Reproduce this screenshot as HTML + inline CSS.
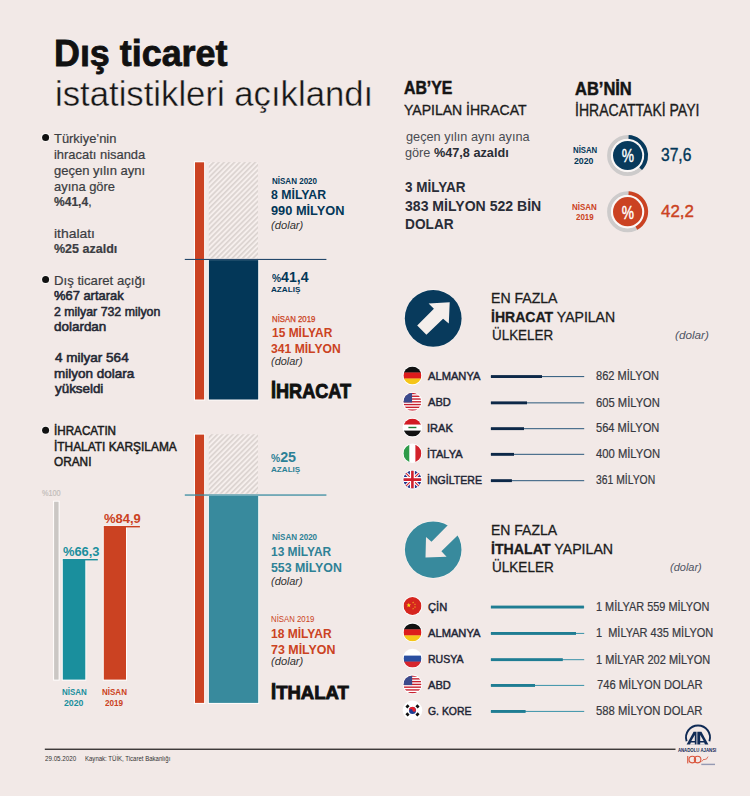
<!DOCTYPE html>
<html><head><meta charset="utf-8"><style>
html,body{margin:0;padding:0;}
body{width:750px;height:796px;background:#f2e9e7;position:relative;overflow:hidden;font-family:"Liberation Sans",sans-serif;}
.t{position:absolute;white-space:nowrap;transform-origin:0 0;}
.t b{font-weight:700;}
svg{position:absolute;left:0;top:0;}
</style></head><body>
<svg width="750" height="796" viewBox="0 0 750 796"><defs><pattern id="hatch" patternUnits="userSpaceOnUse" width="3.68" height="20" patternTransform="rotate(45)"><rect width="3.68" height="20" fill="#f6efed"/><rect x="0" width="1.7" height="20" fill="#dbd3d0"/></pattern></defs><rect x="194" y="161.3" width="11.099999999999994" height="239.2" fill="#fffdfc"/><rect x="195" y="162.3" width="9.099999999999994" height="237.2" fill="#cb4222"/><rect x="208.8" y="162.1" width="49.2" height="96.3" fill="url(#hatch)"/><rect x="207.9" y="259.1" width="51.29999999999998" height="141.39999999999998" fill="#fffdfc"/><rect x="208.9" y="260.1" width="49.29999999999998" height="139.39999999999998" fill="#033758"/><rect x="184.8" y="258.9" width="141.6" height="1.1" fill="#23476a"/><rect x="194" y="433.6" width="11.099999999999994" height="270.29999999999995" fill="#fffdfc"/><rect x="195" y="434.6" width="9.099999999999994" height="268.29999999999995" fill="#cb4222"/><rect x="208.8" y="434.2" width="49.2" height="59.4" fill="url(#hatch)"/><rect x="207.9" y="494.9" width="51.29999999999998" height="209.0" fill="#fffdfc"/><rect x="208.9" y="495.9" width="49.29999999999998" height="207.0" fill="#388a9d"/><rect x="184.8" y="494.4" width="141.6" height="1.3" fill="#3c8da1"/><rect x="53.1" y="500.7" width="6.5" height="179.90000000000003" fill="#fffdfc"/><rect x="54.1" y="501.7" width="4.5" height="177.90000000000003" fill="#cbc7c4"/><rect x="61.8" y="558.7" width="24.5" height="121.89999999999998" fill="#fffdfc"/><rect x="62.8" y="559.7" width="22.5" height="119.89999999999998" fill="#1a8f9d"/><rect x="62.8" y="559.0" width="35" height="1.4" fill="#1a8f9d"/><rect x="102.8" y="525.7" width="24.200000000000003" height="154.89999999999998" fill="#fffdfc"/><rect x="103.8" y="526.7" width="22.200000000000003" height="152.89999999999998" fill="#cb4222"/><rect x="103.8" y="526.0" width="36.1" height="1.4" fill="#cb4222"/><circle cx="45.6" cy="137.4" r="4.4" fill="#fdfbfa"/><circle cx="45.6" cy="137.4" r="3.5" fill="#111"/><circle cx="45.6" cy="279.6" r="4.4" fill="#fdfbfa"/><circle cx="45.6" cy="279.6" r="3.5" fill="#111"/><circle cx="45.6" cy="430.2" r="4.4" fill="#fdfbfa"/><circle cx="45.6" cy="430.2" r="3.5" fill="#111"/><rect x="44.8" y="748.6" width="630.7" height="1.3" fill="#2b2727"/><circle cx="627.6" cy="155.5" r="18.6" fill="none" stroke="#cdcbcb" stroke-width="3.8"/><circle cx="627.6" cy="155.5" r="16.6" fill="#fbf8f7"/><circle cx="627.6" cy="155.5" r="14.6" fill="#083a5c"/><path d="M628.57 136.93 A18.6 18.6 0 0 1 640.67 168.73" fill="none" stroke="#083a5c" stroke-width="3.8"/><text transform="translate(627.9,162.4) scale(0.74,1)" text-anchor="middle" font-family="Liberation Sans" font-size="18.6" fill="#fff" stroke="#fff" stroke-width="0.45">%</text><circle cx="627.6" cy="211.7" r="18.6" fill="none" stroke="#cdcbcb" stroke-width="3.8"/><circle cx="627.6" cy="211.7" r="16.6" fill="#fbf8f7"/><circle cx="627.6" cy="211.7" r="14.6" fill="#cb4222"/><path d="M628.57 193.13 A18.6 18.6 0 0 1 636.36 228.11" fill="none" stroke="#cb4222" stroke-width="3.8"/><text transform="translate(627.9,218.6) scale(0.74,1)" text-anchor="middle" font-family="Liberation Sans" font-size="18.6" fill="#fff" stroke="#fff" stroke-width="0.45">%</text><circle cx="433.2" cy="318.4" r="28.9" fill="#fbf6f3"/><circle cx="433.2" cy="318.4" r="28.4" fill="#083a5c"/><polygon points="449.7,302.3 428.6,303.6 433.9,308.7 417.2,325.6 426.4,334.8 443.1,318.7 448.8,323.4" fill="#f4eeeb"/><circle cx="433.2" cy="549.7" r="28.8" fill="#fbf6f3"/><circle cx="433.2" cy="549.7" r="28.3" fill="#388a9d"/><polygon points="426,536.9 431.5,541.8 449.5,523.5 459.6,533.6 441.4,551.3 446.6,556.7 425.5,557.6" fill="#f2e9e7"/><rect x="490.9" y="376.00" width="93.30" height="1.1" fill="#3d6585"/><rect x="490.9" y="375.10" width="51.10" height="2.9" fill="#0d2848"/><rect x="490.9" y="402.30" width="93.30" height="1.1" fill="#3d6585"/><rect x="490.9" y="401.40" width="36.10" height="2.9" fill="#0d2848"/><rect x="490.9" y="428.10" width="93.30" height="1.1" fill="#3d6585"/><rect x="490.9" y="427.20" width="33.10" height="2.9" fill="#0d2848"/><rect x="490.9" y="453.80" width="93.30" height="1.1" fill="#3d6585"/><rect x="490.9" y="452.90" width="23.10" height="2.9" fill="#0d2848"/><rect x="490.9" y="480.10" width="93.30" height="1.1" fill="#3d6585"/><rect x="490.9" y="479.20" width="21.00" height="2.9" fill="#0d2848"/><rect x="490.9" y="606.50" width="93.30" height="1.1" fill="#4a9aae"/><rect x="490.9" y="605.60" width="93.00" height="2.9" fill="#1f7d93"/><rect x="490.9" y="632.90" width="93.30" height="1.1" fill="#4a9aae"/><rect x="490.9" y="632.00" width="85.10" height="2.9" fill="#1f7d93"/><rect x="490.9" y="659.10" width="93.30" height="1.1" fill="#4a9aae"/><rect x="490.9" y="658.20" width="71.90" height="2.9" fill="#1f7d93"/><rect x="490.9" y="684.90" width="93.30" height="1.1" fill="#4a9aae"/><rect x="490.9" y="684.00" width="44.10" height="2.9" fill="#1f7d93"/><rect x="490.9" y="710.90" width="93.30" height="1.1" fill="#4a9aae"/><rect x="490.9" y="710.00" width="34.70" height="2.9" fill="#1f7d93"/><clipPath id="c412_3755"><circle cx="412.4" cy="375.5" r="9.0"/></clipPath><circle cx="412.4" cy="375.5" r="9.8" fill="#fff"/><g clip-path="url(#c412_3755)"><rect x="403.4" y="366.5" width="18.0" height="6.3" fill="#111"/><rect x="403.4" y="372.5" width="18.0" height="6.3" fill="#dd1c1c"/><rect x="403.4" y="378.5" width="18.0" height="6.0" fill="#f5c518"/></g><clipPath id="c412_4018"><circle cx="412.4" cy="401.8" r="9.0"/></clipPath><circle cx="412.4" cy="401.8" r="9.8" fill="#fff"/><g clip-path="url(#c412_4018)"><rect x="403.4" y="392.8" width="18.0" height="18.0" fill="#fff"/><rect x="403.4" y="392.8" width="18.0" height="1.3846153846153846" fill="#c8202f"/><rect x="403.4" y="395.5692307692308" width="18.0" height="1.3846153846153846" fill="#c8202f"/><rect x="403.4" y="398.33846153846156" width="18.0" height="1.3846153846153846" fill="#c8202f"/><rect x="403.4" y="401.10769230769233" width="18.0" height="1.3846153846153846" fill="#c8202f"/><rect x="403.4" y="403.8769230769231" width="18.0" height="1.3846153846153846" fill="#c8202f"/><rect x="403.4" y="406.6461538461539" width="18.0" height="1.3846153846153846" fill="#c8202f"/><rect x="403.4" y="409.4153846153846" width="18.0" height="1.3846153846153846" fill="#c8202f"/><rect x="403.4" y="392.8" width="8.64" height="9.692307692307692" fill="#3b4a8c"/></g><clipPath id="c412_4276"><circle cx="412.4" cy="427.6" r="9.0"/></clipPath><circle cx="412.4" cy="427.6" r="9.8" fill="#fff"/><g clip-path="url(#c412_4276)"><rect x="403.4" y="418.6" width="18.0" height="6.3" fill="#d21b24"/><rect x="403.4" y="424.6" width="18.0" height="6.3" fill="#fff"/><rect x="403.4" y="430.6" width="18.0" height="6.0" fill="#111"/><rect x="408.4" y="426.8" width="8" height="1.4" fill="#1f7a36"/></g><clipPath id="c412_4533"><circle cx="412.4" cy="453.3" r="9.0"/></clipPath><circle cx="412.4" cy="453.3" r="9.8" fill="#fff"/><g clip-path="url(#c412_4533)"><rect x="403.4" y="444.3" width="6.3" height="18.0" fill="#2e9a48"/><rect x="409.4" y="444.3" width="6.3" height="18.0" fill="#fff"/><rect x="415.4" y="444.3" width="6.0" height="18.0" fill="#d2232c"/></g><clipPath id="c412_4796"><circle cx="412.4" cy="479.6" r="9.0"/></clipPath><circle cx="412.4" cy="479.6" r="9.8" fill="#fff"/><g clip-path="url(#c412_4796)"><rect x="403.4" y="470.6" width="18.0" height="18.0" fill="#23338a"/><path d="M403.4 470.6 L421.4 488.6 M421.4 470.6 L403.4 488.6" stroke="#fff" stroke-width="3.2"/><path d="M403.4 470.6 L421.4 488.6 M421.4 470.6 L403.4 488.6" stroke="#d0202e" stroke-width="1.1"/><path d="M412.4 470.6 V488.6 M403.4 479.6 H421.4" stroke="#fff" stroke-width="5"/><path d="M412.4 470.6 V488.6 M403.4 479.6 H421.4" stroke="#d0202e" stroke-width="2.6"/></g><clipPath id="c412_6060"><circle cx="412.5" cy="606.0" r="9.0"/></clipPath><circle cx="412.5" cy="606.0" r="9.8" fill="#fff"/><g clip-path="url(#c412_6060)"><rect x="403.5" y="597.0" width="18.0" height="18.0" fill="#d6251f"/><polygon points="408.80,602.70 409.39,604.39 411.18,604.43 409.75,605.51 410.27,607.22 408.80,606.20 407.33,607.22 407.85,605.51 406.42,604.43 408.21,604.39" fill="#f9e11a"/><polygon points="413.10,601.55 413.32,602.19 414.00,602.21 413.46,602.62 413.66,603.27 413.10,602.88 412.54,603.27 412.74,602.62 412.20,602.21 412.88,602.19" fill="#f9e11a"/><polygon points="415.00,603.25 415.22,603.89 415.90,603.91 415.36,604.32 415.56,604.97 415.00,604.58 414.44,604.97 414.64,604.32 414.10,603.91 414.78,603.89" fill="#f9e11a"/><polygon points="415.00,606.05 415.22,606.69 415.90,606.71 415.36,607.12 415.56,607.77 415.00,607.38 414.44,607.77 414.64,607.12 414.10,606.71 414.78,606.69" fill="#f9e11a"/><polygon points="413.10,607.75 413.32,608.39 414.00,608.41 413.46,608.82 413.66,609.47 413.10,609.08 412.54,609.47 412.74,608.82 412.20,608.41 412.88,608.39" fill="#f9e11a"/></g><clipPath id="c412_6324"><circle cx="412.5" cy="632.4" r="9.0"/></clipPath><circle cx="412.5" cy="632.4" r="9.8" fill="#fff"/><g clip-path="url(#c412_6324)"><rect x="403.5" y="623.4" width="18.0" height="6.3" fill="#111"/><rect x="403.5" y="629.4" width="18.0" height="6.3" fill="#dd1c1c"/><rect x="403.5" y="635.4" width="18.0" height="6.0" fill="#f5c518"/></g><clipPath id="c412_6586"><circle cx="412.5" cy="658.6" r="9.0"/></clipPath><circle cx="412.5" cy="658.6" r="9.8" fill="#fff"/><g clip-path="url(#c412_6586)"><rect x="403.5" y="649.6" width="18.0" height="6.3" fill="#fff"/><rect x="403.5" y="655.6" width="18.0" height="6.3" fill="#2a4ea0"/><rect x="403.5" y="661.6" width="18.0" height="6.0" fill="#d6252d"/></g><clipPath id="c412_6844"><circle cx="412.5" cy="684.4" r="9.0"/></clipPath><circle cx="412.5" cy="684.4" r="9.8" fill="#fff"/><g clip-path="url(#c412_6844)"><rect x="403.5" y="675.4" width="18.0" height="18.0" fill="#fff"/><rect x="403.5" y="675.4" width="18.0" height="1.3846153846153846" fill="#c8202f"/><rect x="403.5" y="678.1692307692307" width="18.0" height="1.3846153846153846" fill="#c8202f"/><rect x="403.5" y="680.9384615384615" width="18.0" height="1.3846153846153846" fill="#c8202f"/><rect x="403.5" y="683.7076923076922" width="18.0" height="1.3846153846153846" fill="#c8202f"/><rect x="403.5" y="686.4769230769231" width="18.0" height="1.3846153846153846" fill="#c8202f"/><rect x="403.5" y="689.2461538461538" width="18.0" height="1.3846153846153846" fill="#c8202f"/><rect x="403.5" y="692.0153846153846" width="18.0" height="1.3846153846153846" fill="#c8202f"/><rect x="403.5" y="675.4" width="8.64" height="9.692307692307692" fill="#3b4a8c"/></g><clipPath id="c412_7104"><circle cx="412.5" cy="710.4" r="9.0"/></clipPath><circle cx="412.5" cy="710.4" r="9.8" fill="#fff"/><g clip-path="url(#c412_7104)"><rect x="403.5" y="701.4" width="18.0" height="18.0" fill="#fff"/><circle cx="412.5" cy="710.4" r="3.5" fill="#1f3f96"/><path d="M409.0 710.4 A3.5 3.5 0 0 1 416.0 710.4 A1.75 1.75 0 0 1 412.5 710.4 A1.75 1.75 0 0 0 409.0 710.4Z" fill="#e3202c" transform="rotate(-15 412.5 710.4)"/><rect x="405.9" y="705.1" width="3.2" height="2.6" fill="#111" transform="rotate(-45 407.5 706.4)"/><rect x="415.9" y="705.1" width="3.2" height="2.6" fill="#111" transform="rotate(45 417.5 706.4)"/><rect x="405.9" y="713.1" width="3.2" height="2.6" fill="#111" transform="rotate(45 407.5 714.4)"/><rect x="415.9" y="713.1" width="3.2" height="2.6" fill="#111" transform="rotate(-45 417.5 714.4)"/></g><path d="M686.6 741.2 A12 12 0 1 1 709.4 741.2" fill="none" stroke="#0f2a55" stroke-width="1.9"/><polygon points="686.6,744.6 693.6,731.8 696.5,731.8 696.5,744.6" fill="#0f2a55"/><polygon points="708.4,744.6 701.4,731.8 697.3,731.8 697.3,744.6" fill="#0f2a55"/><polygon points="691.3,741.0 694.8,735.0 694.8,741.0" fill="#f2e9e7"/><polygon points="689.9,744.8 690.9,742.6 694.8,742.6 694.8,744.8" fill="#f2e9e7"/><polygon points="703.7,741.0 700.2,735.0 700.2,741.0" fill="#f2e9e7"/><polygon points="705.1,744.8 704.1,742.6 700.2,742.6 700.2,744.8" fill="#f2e9e7"/><text x="677.9" y="752" font-family="Liberation Sans" font-weight="700" font-size="6" fill="#0f2a55" textLength="38.4" lengthAdjust="spacingAndGlyphs">ANADOLU AJANSI</text><rect x="687.2" y="756" width="1.1" height="7.4" fill="#d9533a"/><circle cx="692.3" cy="759.6" r="3.3" fill="none" stroke="#d9533a" stroke-width="1.1"/><circle cx="697.6" cy="759.6" r="3.3" fill="none" stroke="#d9533a" stroke-width="1.1"/><path d="M701.5 761.5 q1.5 -1 2.5 -2.5 q0.5 2 1.5 0 q0.5 1.5 2.5 -2.4" stroke="#d9533a" stroke-width="0.8" fill="none"/><rect x="701.3" y="763.7" width="13.7" height="1.4" fill="#7d86a6" opacity="0.8"/></svg>
<div class="t" id="t0" style="left:53.66px;top:36.26px;font-size:36.19px;line-height:36.19px;font-weight:700;color:#111;font-style:normal;transform:scaleX(0.9917);-webkit-text-stroke:0.8px #111;">Dış ticaret</div><div class="t" id="t1" style="left:54.66px;top:77.20px;font-size:34.60px;line-height:34.60px;font-weight:400;color:#161616;font-style:normal;transform:scaleX(1.0035);-webkit-text-stroke:0.4px #f2e9e7;">istatistikleri açıklandı</div><div class="t" id="t2" style="left:54.14px;top:133.35px;font-size:12.94px;line-height:12.94px;font-weight:400;color:#3b3d42;font-style:normal;transform:scaleX(0.9975);-webkit-text-stroke:0.2px #3b3d42;">Türkiye’nin</div><div class="t" id="t3" style="left:54.21px;top:149.35px;font-size:12.94px;line-height:12.94px;font-weight:400;color:#3b3d42;font-style:normal;transform:scaleX(0.9988);-webkit-text-stroke:0.2px #3b3d42;">ihracatı nisanda</div><div class="t" id="t4" style="left:54.32px;top:165.05px;font-size:12.94px;line-height:12.94px;font-weight:400;color:#3b3d42;font-style:normal;transform:scaleX(1.0050);-webkit-text-stroke:0.2px #3b3d42;">geçen yılın aynı</div><div class="t" id="t5" style="left:54.04px;top:180.65px;font-size:12.94px;line-height:12.94px;font-weight:400;color:#3b3d42;font-style:normal;transform:scaleX(0.9977);-webkit-text-stroke:0.2px #3b3d42;">ayına göre</div><div class="t" id="t6" style="left:53.91px;top:196.45px;font-size:12.94px;line-height:12.94px;font-weight:400;color:#3b3d42;font-style:normal;transform:scaleX(0.9309);-webkit-text-stroke:0.2px #3b3d42;"><b>%41,4</b>,</div><div class="t" id="t7" style="left:54.00px;top:227.85px;font-size:12.94px;line-height:12.94px;font-weight:400;color:#3b3d42;font-style:normal;transform:scaleX(1.0751);-webkit-text-stroke:0.2px #3b3d42;">ithalatı</div><div class="t" id="t8" style="left:53.89px;top:243.45px;font-size:12.94px;line-height:12.94px;font-weight:400;color:#3b3d42;font-style:normal;transform:scaleX(0.9666);-webkit-text-stroke:0.2px #3b3d42;"><b>%25 azaldı</b></div><div class="t" id="t9" style="left:53.58px;top:274.95px;font-size:12.94px;line-height:12.94px;font-weight:400;color:#3b3d42;font-style:normal;transform:scaleX(1.0172);-webkit-text-stroke:0.2px #3b3d42;">Dış ticaret açığı</div><div class="t" id="t10" style="left:54.08px;top:289.95px;font-size:12.94px;line-height:12.94px;font-weight:400;color:#232733;font-style:normal;transform:scaleX(0.9983);-webkit-text-stroke:0.55px #232733;">%67 artarak</div><div class="t" id="t11" style="left:53.74px;top:305.65px;font-size:12.94px;line-height:12.94px;font-weight:400;color:#232733;font-style:normal;transform:scaleX(0.9540);-webkit-text-stroke:0.55px #232733;">2 milyar 732 milyon</div><div class="t" id="t12" style="left:53.85px;top:321.05px;font-size:12.94px;line-height:12.94px;font-weight:400;color:#232733;font-style:normal;transform:scaleX(1.0388);-webkit-text-stroke:0.55px #232733;">dolardan</div><div class="t" id="t13" style="left:54.56px;top:352.25px;font-size:12.94px;line-height:12.94px;font-weight:400;color:#232733;font-style:normal;transform:scaleX(1.0454);-webkit-text-stroke:0.55px #232733;">4 milyar 564</div><div class="t" id="t14" style="left:53.96px;top:367.85px;font-size:12.94px;line-height:12.94px;font-weight:400;color:#232733;font-style:normal;transform:scaleX(1.0418);-webkit-text-stroke:0.55px #232733;">milyon dolara</div><div class="t" id="t15" style="left:54.85px;top:383.35px;font-size:12.94px;line-height:12.94px;font-weight:400;color:#232733;font-style:normal;transform:scaleX(1.0339);-webkit-text-stroke:0.55px #232733;">yükseldi</div><div class="t" id="t16" style="left:54.04px;top:425.42px;font-size:12.50px;line-height:12.50px;font-weight:400;color:#1c1c1c;font-style:normal;transform:scaleX(0.9340);-webkit-text-stroke:0.5px #1c1c1c;">İHRACATIN</div><div class="t" id="t17" style="left:53.96px;top:441.02px;font-size:12.50px;line-height:12.50px;font-weight:400;color:#1c1c1c;font-style:normal;transform:scaleX(0.9519);-webkit-text-stroke:0.5px #1c1c1c;">İTHALATI KARŞILAMA</div><div class="t" id="t18" style="left:53.69px;top:455.62px;font-size:12.50px;line-height:12.50px;font-weight:400;color:#1c1c1c;font-style:normal;transform:scaleX(0.9456);-webkit-text-stroke:0.5px #1c1c1c;">ORANI</div><div class="t" id="t19" style="left:41.77px;top:489.02px;font-size:8.72px;line-height:8.72px;font-weight:400;color:#c2bcb9;font-style:normal;transform:scaleX(0.8378);-webkit-text-stroke:0.2px #c4bebb;">%100</div><div class="t" id="t20" style="left:62.91px;top:546.17px;font-size:12.79px;line-height:12.79px;font-weight:700;color:#1a8f9d;font-style:normal;transform:scaleX(1.0078);">%66,3</div><div class="t" id="t21" style="left:104.06px;top:513.37px;font-size:12.79px;line-height:12.79px;font-weight:700;color:#cb4222;font-style:normal;transform:scaleX(1.0158);">%84,9</div><div class="t" id="t22" style="left:61.64px;top:688.32px;font-size:9.30px;line-height:9.30px;font-weight:700;color:#1a8f9d;font-style:normal;transform:scaleX(0.8557);">NİSAN</div><div class="t" id="t23" style="left:64.47px;top:698.72px;font-size:9.30px;line-height:9.30px;font-weight:700;color:#1a8f9d;font-style:normal;transform:scaleX(0.9407);">2020</div><div class="t" id="t24" style="left:101.63px;top:688.32px;font-size:9.30px;line-height:9.30px;font-weight:700;color:#cb4222;font-style:normal;transform:scaleX(0.8620);">NİSAN</div><div class="t" id="t25" style="left:104.87px;top:698.72px;font-size:9.30px;line-height:9.30px;font-weight:700;color:#cb4222;font-style:normal;transform:scaleX(0.8768);">2019</div><div class="t" id="t26" style="left:271.84px;top:177.64px;font-size:8.28px;line-height:8.28px;font-weight:700;color:#033758;font-style:normal;transform:scaleX(0.9704);">NİSAN 2020</div><div class="t" id="t27" style="left:271.16px;top:189.47px;font-size:12.79px;line-height:12.79px;font-weight:700;color:#033758;font-style:normal;transform:scaleX(0.9614);">8 MİLYAR</div><div class="t" id="t28" style="left:271.00px;top:204.97px;font-size:12.79px;line-height:12.79px;font-weight:700;color:#033758;font-style:normal;">990 MİLYON</div><div class="t" id="t29" style="left:271.16px;top:219.89px;font-size:10.76px;line-height:10.76px;font-weight:400;color:#333;font-style:italic;transform:scaleX(1.0403);">(dolar)</div><div class="t" id="t30" style="left:271.57px;top:269.08px;font-size:15.26px;line-height:15.26px;font-weight:700;color:#033758;font-style:normal;transform:scaleX(0.9265);"><span style="font-size:72%">%</span>41,4</div><div class="t" id="t31" style="left:271.16px;top:286.45px;font-size:7.85px;line-height:7.85px;font-weight:700;color:#033758;font-style:normal;transform:scaleX(1.0369);">AZALIŞ</div><div class="t" id="t32" style="left:271.90px;top:315.51px;font-size:8.14px;line-height:8.14px;font-weight:400;color:#cb4222;font-style:normal;transform:scaleX(0.9597);-webkit-text-stroke:0.25px #cb4222;">NİSAN 2019</div><div class="t" id="t33" style="left:271.73px;top:326.22px;font-size:13.08px;line-height:13.08px;font-weight:700;color:#cb4222;font-style:normal;transform:scaleX(0.9145);">15 MİLYAR</div><div class="t" id="t34" style="left:271.21px;top:341.72px;font-size:13.08px;line-height:13.08px;font-weight:700;color:#cb4222;font-style:normal;transform:scaleX(0.9285);">341 MİLYON</div><div class="t" id="t35" style="left:271.19px;top:355.89px;font-size:10.76px;line-height:10.76px;font-weight:400;color:#333;font-style:italic;transform:scaleX(1.0183);">(dolar)</div><div class="t" id="t36" style="left:270.97px;top:380.87px;font-size:20.35px;line-height:20.35px;font-weight:700;color:#111;font-style:normal;transform:scaleX(0.8888);-webkit-text-stroke:0.9px #111;">İHRACAT</div><div class="t" id="t37" style="left:271.42px;top:449.92px;font-size:14.97px;line-height:14.97px;font-weight:700;color:#2e8196;font-style:normal;transform:scaleX(0.9564);"><span style="font-size:72%">%</span>25</div><div class="t" id="t38" style="left:271.10px;top:466.25px;font-size:7.85px;line-height:7.85px;font-weight:700;color:#2e8196;font-style:normal;transform:scaleX(1.0339);">AZALIŞ</div><div class="t" id="t39" style="left:271.71px;top:533.89px;font-size:8.28px;line-height:8.28px;font-weight:700;color:#2e8196;font-style:normal;transform:scaleX(0.9714);">NİSAN 2020</div><div class="t" id="t40" style="left:271.05px;top:545.32px;font-size:13.08px;line-height:13.08px;font-weight:700;color:#2e8196;font-style:normal;transform:scaleX(0.9133);">13 MİLYAR</div><div class="t" id="t41" style="left:271.30px;top:560.82px;font-size:13.08px;line-height:13.08px;font-weight:700;color:#2e8196;font-style:normal;transform:scaleX(0.9431);">553 MİLYON</div><div class="t" id="t42" style="left:271.19px;top:575.89px;font-size:10.76px;line-height:10.76px;font-weight:400;color:#333;font-style:italic;transform:scaleX(1.0183);">(dolar)</div><div class="t" id="t43" style="left:271.25px;top:615.07px;font-size:9.01px;line-height:9.01px;font-weight:400;color:#cb4222;font-style:normal;transform:scaleX(0.8662);">NİSAN 2019</div><div class="t" id="t44" style="left:271.47px;top:628.42px;font-size:12.50px;line-height:12.50px;font-weight:700;color:#cb4222;font-style:normal;transform:scaleX(0.9629);">18 MİLYAR</div><div class="t" id="t45" style="left:271.26px;top:644.12px;font-size:12.50px;line-height:12.50px;font-weight:700;color:#cb4222;font-style:normal;transform:scaleX(0.9943);">73 MİLYON</div><div class="t" id="t46" style="left:270.87px;top:656.09px;font-size:10.76px;line-height:10.76px;font-weight:400;color:#333;font-style:italic;transform:scaleX(1.0402);">(dolar)</div><div class="t" id="t47" style="left:270.98px;top:682.76px;font-size:19.19px;line-height:19.19px;font-weight:700;color:#111;font-style:normal;transform:scaleX(0.9646);-webkit-text-stroke:0.9px #111;">İTHALAT</div><div class="t" id="t48" style="left:44.88px;top:754.55px;font-size:7.27px;line-height:7.27px;font-weight:400;color:#333;font-style:normal;transform:scaleX(0.8567);">29.05.2020</div><div class="t" id="t49" style="left:84.99px;top:754.55px;font-size:7.27px;line-height:7.27px;font-weight:400;color:#333;font-style:normal;transform:scaleX(0.8295);">Kaynak: TÜİK, Ticaret Bakanlığı</div><div class="t" id="t50" style="left:404.23px;top:79.32px;font-size:18.17px;line-height:18.17px;font-weight:700;color:#151515;font-style:normal;transform:scaleX(0.8722);-webkit-text-stroke:0.5px #151515;">AB’YE</div><div class="t" id="t51" style="left:403.88px;top:102.38px;font-size:15.26px;line-height:15.26px;font-weight:400;color:#1c1c1c;font-style:normal;transform:scaleX(0.9196);-webkit-text-stroke:0.35px #1c1c1c;">YAPILAN İHRACAT</div><div class="t" id="t52" style="left:405.55px;top:131.45px;font-size:12.94px;line-height:12.94px;font-weight:400;color:#4a4c52;font-style:normal;transform:scaleX(0.9819);">geçen yılın aynı ayına</div><div class="t" id="t53" style="left:405.30px;top:146.65px;font-size:12.94px;line-height:12.94px;font-weight:400;color:#4a4c52;font-style:normal;transform:scaleX(0.9809);">göre <b style="color:#2a2d35">%47,8 azaldı</b></div><div class="t" id="t54" style="left:405.48px;top:179.57px;font-size:14.68px;line-height:14.68px;font-weight:700;color:#2a2d37;font-style:normal;transform:scaleX(0.9203);">3 MİLYAR</div><div class="t" id="t55" style="left:405.40px;top:199.17px;font-size:14.68px;line-height:14.68px;font-weight:700;color:#2a2d37;font-style:normal;transform:scaleX(0.9584);">383 MİLYON 522 BİN</div><div class="t" id="t56" style="left:405.33px;top:216.87px;font-size:14.68px;line-height:14.68px;font-weight:700;color:#2a2d37;font-style:normal;transform:scaleX(0.9331);">DOLAR</div><div class="t" id="t57" style="left:574.73px;top:80.09px;font-size:18.31px;line-height:18.31px;font-weight:700;color:#151515;font-style:normal;transform:scaleX(0.9007);-webkit-text-stroke:0.5px #151515;">AB’NİN</div><div class="t" id="t58" style="left:575.23px;top:103.41px;font-size:15.70px;line-height:15.70px;font-weight:400;color:#1c1c1c;font-style:normal;transform:scaleX(0.8938);-webkit-text-stroke:0.35px #1c1c1c;">İHRACATTAKİ PAYI</div><div class="t" id="t59" style="left:572.65px;top:147.09px;font-size:8.28px;line-height:8.28px;font-weight:700;color:#033758;font-style:normal;transform:scaleX(0.9427);">NİSAN</div><div class="t" id="t60" style="left:574.02px;top:156.99px;font-size:8.87px;line-height:8.87px;font-weight:700;color:#033758;font-style:normal;transform:scaleX(0.9863);">2020</div><div class="t" id="t61" style="left:660.67px;top:147.03px;font-size:17.44px;line-height:17.44px;font-weight:400;color:#033758;font-style:normal;transform:scaleX(0.8941);-webkit-text-stroke:0.4px #033758;">37,6</div><div class="t" id="t62" style="left:571.85px;top:202.76px;font-size:8.43px;line-height:8.43px;font-weight:700;color:#cb4222;font-style:normal;transform:scaleX(0.9467);">NİSAN</div><div class="t" id="t63" style="left:575.60px;top:213.29px;font-size:8.87px;line-height:8.87px;font-weight:700;color:#cb4222;font-style:normal;transform:scaleX(0.8957);">2019</div><div class="t" id="t64" style="left:660.90px;top:203.92px;font-size:16.86px;line-height:16.86px;font-weight:400;color:#cb4222;font-style:normal;transform:scaleX(1.0038);-webkit-text-stroke:0.4px #cb4222;">42,2</div><div class="t" id="t65" style="left:491.23px;top:290.05px;font-size:15.41px;line-height:15.41px;font-weight:400;color:#1c1c1c;font-style:normal;transform:scaleX(0.9140);-webkit-text-stroke:0.3px #1c1c1c;">EN FAZLA</div><div class="t" id="t66" style="left:490.77px;top:308.65px;font-size:15.41px;line-height:15.41px;font-weight:400;color:#1c1c1c;font-style:normal;transform:scaleX(0.9119);-webkit-text-stroke:0.3px #1c1c1c;"><b>İHRACAT</b> YAPILAN</div><div class="t" id="t67" style="left:491.50px;top:327.35px;font-size:15.41px;line-height:15.41px;font-weight:400;color:#1c1c1c;font-style:normal;transform:scaleX(0.8712);-webkit-text-stroke:0.3px #1c1c1c;">ÜLKELER</div><div class="t" id="t68" style="left:674.81px;top:329.85px;font-size:11.05px;line-height:11.05px;font-weight:400;color:#4f5463;font-style:italic;transform:scaleX(1.0592);">(dolar)</div><div class="t" id="t69" style="left:427.82px;top:370.35px;font-size:11.63px;line-height:11.63px;font-weight:400;color:#1e2535;font-style:normal;transform:scaleX(0.9586);-webkit-text-stroke:0.45px #1e2535;">ALMANYA</div><div class="t" id="t70" style="left:596.39px;top:370.19px;font-size:12.06px;line-height:12.06px;font-weight:400;color:#363840;font-style:normal;transform:scaleX(0.9180);-webkit-text-stroke:0.2px #363840;">862 MİLYON</div><div class="t" id="t71" style="left:427.81px;top:395.65px;font-size:11.63px;line-height:11.63px;font-weight:400;color:#1e2535;font-style:normal;transform:scaleX(0.9539);-webkit-text-stroke:0.45px #1e2535;">ABD</div><div class="t" id="t72" style="left:596.25px;top:397.49px;font-size:12.06px;line-height:12.06px;font-weight:400;color:#363840;font-style:normal;transform:scaleX(0.9298);-webkit-text-stroke:0.2px #363840;">605 MİLYON</div><div class="t" id="t73" style="left:427.25px;top:422.45px;font-size:11.63px;line-height:11.63px;font-weight:400;color:#1e2535;font-style:normal;transform:scaleX(0.9504);-webkit-text-stroke:0.45px #1e2535;">IRAK</div><div class="t" id="t74" style="left:596.02px;top:422.29px;font-size:12.06px;line-height:12.06px;font-weight:400;color:#363840;font-style:normal;transform:scaleX(0.9204);-webkit-text-stroke:0.2px #363840;">564 MİLYON</div><div class="t" id="t75" style="left:427.25px;top:448.15px;font-size:11.63px;line-height:11.63px;font-weight:400;color:#1e2535;font-style:normal;transform:scaleX(0.9504);-webkit-text-stroke:0.45px #1e2535;">İTALYA</div><div class="t" id="t76" style="left:596.24px;top:447.99px;font-size:12.06px;line-height:12.06px;font-weight:400;color:#363840;font-style:normal;transform:scaleX(0.9332);-webkit-text-stroke:0.2px #363840;">400 MİLYON</div><div class="t" id="t77" style="left:427.34px;top:474.45px;font-size:11.63px;line-height:11.63px;font-weight:400;color:#1e2535;font-style:normal;transform:scaleX(0.9082);-webkit-text-stroke:0.45px #1e2535;">İNGİLTERE</div><div class="t" id="t78" style="left:596.22px;top:474.29px;font-size:12.06px;line-height:12.06px;font-weight:400;color:#363840;font-style:normal;transform:scaleX(0.8602);-webkit-text-stroke:0.2px #363840;">361 MİLYON</div><div class="t" id="t79" style="left:491.28px;top:523.45px;font-size:14.83px;line-height:14.83px;font-weight:400;color:#1c1c1c;font-style:normal;transform:scaleX(0.9426);-webkit-text-stroke:0.3px #1c1c1c;">EN FAZLA</div><div class="t" id="t80" style="left:491.13px;top:542.25px;font-size:14.83px;line-height:14.83px;font-weight:400;color:#1c1c1c;font-style:normal;transform:scaleX(0.9561);-webkit-text-stroke:0.3px #1c1c1c;"><b>İTHALAT</b> YAPILAN</div><div class="t" id="t81" style="left:491.89px;top:559.85px;font-size:14.83px;line-height:14.83px;font-weight:400;color:#1c1c1c;font-style:normal;transform:scaleX(0.9140);-webkit-text-stroke:0.3px #1c1c1c;">ÜLKELER</div><div class="t" id="t82" style="left:670.17px;top:562.45px;font-size:11.05px;line-height:11.05px;font-weight:400;color:#4f5463;font-style:italic;transform:scaleX(0.9956);">(dolar)</div><div class="t" id="t83" style="left:427.50px;top:600.85px;font-size:11.63px;line-height:11.63px;font-weight:400;color:#1e2535;font-style:normal;transform:scaleX(0.9614);-webkit-text-stroke:0.45px #1e2535;">ÇİN</div><div class="t" id="t84" style="left:595.98px;top:600.69px;font-size:12.06px;line-height:12.06px;font-weight:400;color:#363840;font-style:normal;transform:scaleX(0.9064);-webkit-text-stroke:0.2px #363840;">1 MİLYAR 559 MİLYON</div><div class="t" id="t85" style="left:427.82px;top:627.25px;font-size:11.63px;line-height:11.63px;font-weight:400;color:#1e2535;font-style:normal;transform:scaleX(0.9586);-webkit-text-stroke:0.45px #1e2535;">ALMANYA</div><div class="t" id="t86" style="left:595.97px;top:627.09px;font-size:12.06px;line-height:12.06px;font-weight:400;color:#363840;font-style:normal;transform:scaleX(0.9122);-webkit-text-stroke:0.2px #363840;">1&nbsp; MİLYAR 435 MİLYON</div><div class="t" id="t87" style="left:427.70px;top:653.45px;font-size:11.63px;line-height:11.63px;font-weight:400;color:#1e2535;font-style:normal;transform:scaleX(0.9052);-webkit-text-stroke:0.45px #1e2535;">RUSYA</div><div class="t" id="t88" style="left:595.96px;top:654.29px;font-size:12.06px;line-height:12.06px;font-weight:400;color:#363840;font-style:normal;transform:scaleX(0.9123);-webkit-text-stroke:0.2px #363840;">1 MİLYAR 202 MİLYON</div><div class="t" id="t89" style="left:427.81px;top:679.25px;font-size:11.63px;line-height:11.63px;font-weight:400;color:#1e2535;font-style:normal;transform:scaleX(0.9539);-webkit-text-stroke:0.45px #1e2535;">ABD</div><div class="t" id="t90" style="left:596.61px;top:679.09px;font-size:12.06px;line-height:12.06px;font-weight:400;color:#363840;font-style:normal;transform:scaleX(0.9288);-webkit-text-stroke:0.2px #363840;">746 MİLYON DOLAR</div><div class="t" id="t91" style="left:427.54px;top:705.25px;font-size:11.63px;line-height:11.63px;font-weight:400;color:#1e2535;font-style:normal;transform:scaleX(0.8972);-webkit-text-stroke:0.45px #1e2535;">G. KORE</div><div class="t" id="t92" style="left:596.31px;top:705.09px;font-size:12.06px;line-height:12.06px;font-weight:400;color:#363840;font-style:normal;transform:scaleX(0.9362);-webkit-text-stroke:0.2px #363840;">588 MİLYON DOLAR</div>
</body></html>
